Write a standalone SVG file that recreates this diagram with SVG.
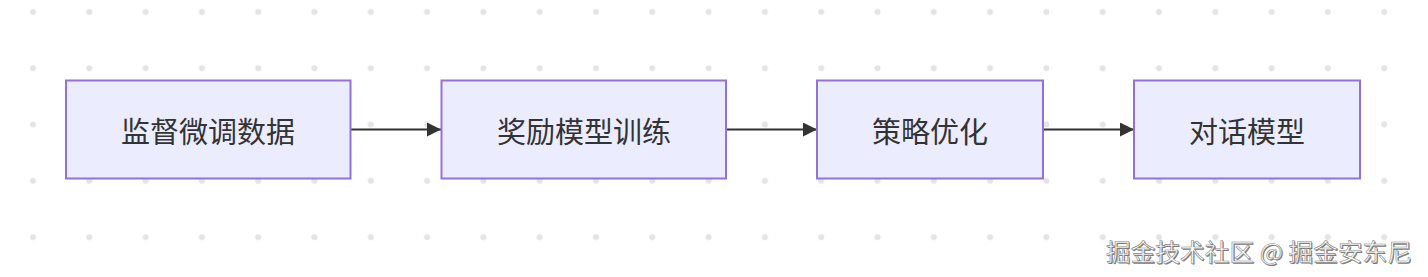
<svg xmlns="http://www.w3.org/2000/svg" width="1428" height="277" viewBox="0 0 1428 277">
<defs>
<pattern id="dots" x="5" y="-16" width="56.3" height="56.3" patternUnits="userSpaceOnUse">
<circle cx="28" cy="28" r="3" fill="#e4e4e4"/>
</pattern>
<marker id="arrow" viewBox="0 0 14 14" refX="14" refY="7" markerWidth="14" markerHeight="14" markerUnits="userSpaceOnUse" orient="auto">
<path d="M0,0 L14,7 L0,14 z" fill="#333"/>
</marker>
<style>
.node rect{fill:#ECECFF;stroke:#9370DB;stroke-width:2}
.node text{font-family:"Noto Sans CJK SC","Noto Sans",sans-serif;font-size:29px;fill:#333;text-anchor:middle;dominant-baseline:central}
.edge{stroke:#333;stroke-width:2;fill:none;marker-end:url(#arrow)}
.wm{font-family:"Noto Sans CJK SC","Noto Sans",sans-serif;font-size:24px}
</style>
</defs>
<rect width="1428" height="277" fill="#fff"/>
<rect width="1428" height="277" fill="url(#dots)"/>
<g id="connectors">
<line class="edge" x1="351" y1="129.5" x2="441" y2="129.5"/>
<line class="edge" x1="726" y1="129.5" x2="817" y2="129.5"/>
<line class="edge" x1="1043" y1="129.5" x2="1134" y2="129.5"/>
</g>
<g id="n1" class="node"><rect x="66" y="80.5" width="284.5" height="98"/><text x="208" y="130">监督微调数据</text></g>
<g id="n2" class="node"><rect x="441.5" y="80.5" width="284.5" height="98"/><text x="584" y="130">奖励模型训练</text></g>
<g id="n3" class="node"><rect x="817" y="80.5" width="226" height="98"/><text x="930" y="130">策略优化</text></g>
<g id="n4" class="node"><rect x="1134" y="80.5" width="226" height="98"/><text x="1247" y="130">对话模型</text></g>
<g id="watermark">
<text class="wm" x="1106" y="261" fill="#777" textLength="306" lengthAdjust="spacingAndGlyphs" transform="translate(1,1)">掘金技术社区 @ 掘金安东尼</text>
<text class="wm" x="1106" y="261" fill="#fff" stroke="#888" stroke-width="0.6" textLength="306" lengthAdjust="spacingAndGlyphs">掘金技术社区 @ 掘金安东尼</text>
</g>
</svg>
